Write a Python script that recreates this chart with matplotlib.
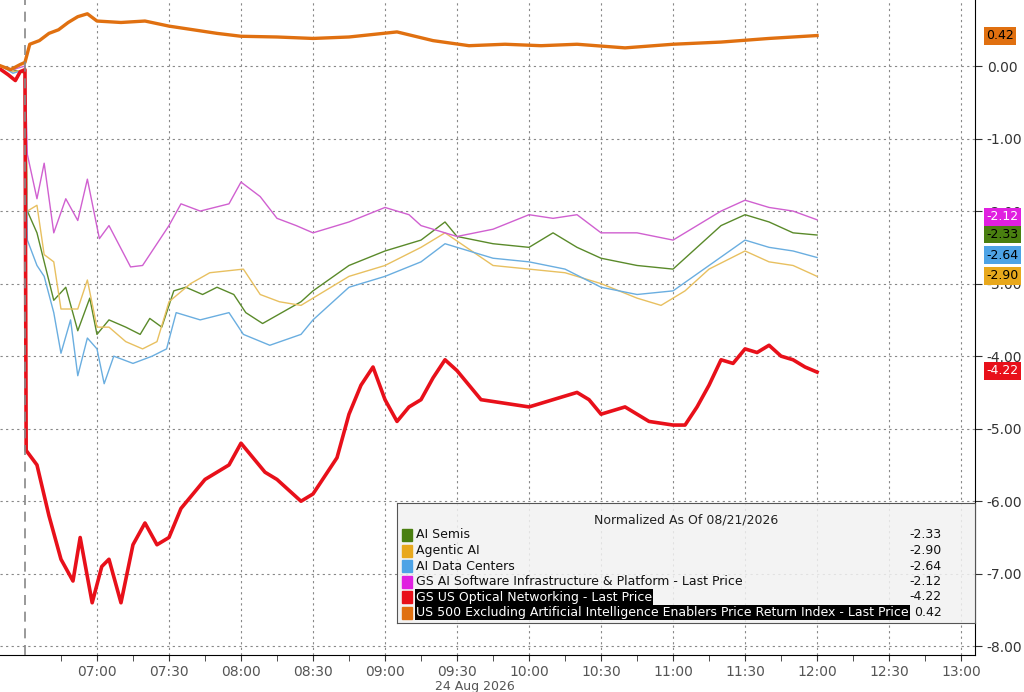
import matplotlib.pyplot as plt
from matplotlib.patches import Rectangle

# times in minutes from midnight, values in %
semis_t = [380, 385, 390, 391, 395, 402, 407, 412, 417, 420, 425, 432, 438, 442, 447, 452, 457, 464, 470, 477, 482, 489, 497, 505,
           510, 525, 540, 555, 565, 570, 585, 600, 610, 620, 630, 645, 660, 670, 680, 690, 700, 710, 720]
semis_v = [0.0, -0.05, -0.1, -2.0, -2.3, -3.23, -3.05, -3.65, -3.2, -3.7, -3.5, -3.6, -3.7, -3.48, -3.6, -3.1, -3.05, -3.15, -3.05, -3.15, -3.4, -3.55, -3.4, -3.25,
           -3.1, -2.75, -2.55, -2.4, -2.15, -2.35, -2.45, -2.5, -2.3, -2.5, -2.65, -2.75, -2.8, -2.5, -2.2, -2.05, -2.15, -2.3, -2.33]
agentic_t = [380, 385, 390, 391, 395, 398, 402, 405, 412, 416, 420, 425, 432, 439, 445, 450, 459, 467, 481, 488, 496, 505,
             510, 525, 540, 555, 565, 585, 600, 615, 630, 645, 655, 665, 675, 690, 700, 710, 720]
agentic_v = [0.0, -0.08, -0.05, -2.0, -1.92, -2.6, -2.7, -3.35, -3.35, -2.95, -3.6, -3.6, -3.8, -3.9, -3.8, -3.25, -3.0, -2.85, -2.8, -3.15, -3.25, -3.3,
             -3.2, -2.9, -2.75, -2.5, -2.3, -2.75, -2.8, -2.85, -3.0, -3.2, -3.3, -3.1, -2.8, -2.55, -2.7, -2.75, -2.9]
dc_t = [380, 385, 390, 391, 395, 398, 402, 405, 409, 412, 416, 420, 423, 427, 435, 443, 449, 453, 463, 475, 481, 492, 505,
        510, 525, 540, 555, 565, 585, 600, 615, 630, 645, 660, 675, 690, 700, 710, 720]
dc_v = [0.0, -0.1, -0.05, -2.4, -2.75, -2.9, -3.4, -3.96, -3.5, -4.27, -3.75, -3.9, -4.38, -4.0, -4.1, -4.0, -3.9, -3.4, -3.5, -3.4, -3.7, -3.85, -3.7,
        -3.5, -3.05, -2.9, -2.7, -2.45, -2.65, -2.7, -2.8, -3.05, -3.15, -3.1, -2.75, -2.4, -2.5, -2.55, -2.64]
sw_t = [380, 385, 390, 391, 395, 398, 402, 407, 412, 416, 421, 425, 434, 439, 443, 450, 455, 463, 475, 480, 488, 495, 503,
        510, 525, 540, 550, 555, 570, 585, 600, 610, 620, 630, 645, 660, 670, 680, 690, 700, 710, 720]
sw_v = [0.0, -0.05, 0.0, -1.22, -1.83, -1.34, -2.3, -1.83, -2.13, -1.56, -2.38, -2.2, -2.77, -2.75, -2.55, -2.2, -1.9, -2.0, -1.9, -1.6, -1.8, -2.1, -2.2,
        -2.3, -2.15, -1.95, -2.05, -2.2, -2.35, -2.25, -2.05, -2.1, -2.05, -2.3, -2.3, -2.4, -2.2, -2.0, -1.85, -1.95, -2.0, -2.12]
opt_t = [380, 383, 386, 388, 390, 390.5, 395, 400, 405, 410, 413, 418, 422, 425, 430, 435, 440, 445, 450, 455, 465, 475, 480, 490, 495, 505,
         510, 520, 525, 530, 535, 540, 545, 550, 555, 560, 565, 570, 580, 590, 600, 610, 620, 625, 630, 640, 650, 660, 665, 670, 675, 680,
         685, 690, 695, 700, 705, 710, 715, 720]
opt_v = [-0.05, -0.12, -0.2, -0.08, -0.05, -5.3, -5.5, -6.2, -6.8, -7.1, -6.5, -7.4, -6.9, -6.8, -7.4, -6.6, -6.3, -6.6, -6.5, -6.1, -5.7, -5.5, -5.2, -5.6, -5.7, -6.0,
         -5.9, -5.4, -4.8, -4.4, -4.15, -4.6, -4.9, -4.7, -4.6, -4.3, -4.05, -4.2, -4.6, -4.65, -4.7, -4.6, -4.5, -4.6, -4.8, -4.7, -4.9, -4.95, -4.95, -4.7,
         -4.4, -4.05, -4.1, -3.9, -3.95, -3.85, -4.0, -4.05, -4.15, -4.22]
spx_t = [380, 384, 388, 390, 392, 396, 400, 404, 408, 412, 416, 420, 430, 440, 450, 460, 470, 480, 495, 510, 525, 545, 560, 575, 590, 605, 620, 640, 660, 680, 700, 720]
spx_v = [0.0, -0.05, 0.02, 0.05, 0.3, 0.35, 0.45, 0.5, 0.6, 0.68, 0.72, 0.62, 0.6, 0.62, 0.55, 0.5, 0.45, 0.41, 0.4, 0.38, 0.4, 0.47, 0.35, 0.28, 0.3, 0.28, 0.3, 0.25, 0.3, 0.33, 0.38, 0.42]

names = ["AI Semis", "Agentic AI", "AI Data Centers", "GS AI Software Infrastructure & Platform - Last Price",
         "GS US Optical Networking - Last Price",
         "US 500 Excluding Artificial Intelligence Enablers Price Return Index - Last Price"]
last = [-2.33, -2.90, -2.64, -2.12, -4.22, 0.42]
colors = ["#4a7f10", "#e8a81c", "#4da3e6", "#e020e0", "#e8101a", "#e07010"]
line_colors = ["#5a8a2a", "#e8c060", "#6aaee0", "#d060d0", "#e8101a", "#e07010"]
series = [(semis_t, semis_v), (agentic_t, agentic_v), (dc_t, dc_v), (sw_t, sw_v), (opt_t, opt_v), (spx_t, spx_v)]
widths = [1.0, 1.0, 1.0, 1.0, 2.6, 2.4]

fig = plt.figure(figsize=(10.24, 6.92), dpi=100)
ax = fig.add_axes([0, 1 - 655 / 692, 975 / 1024, 655 / 692])
for (t, v), c, w in zip(series, line_colors, widths):
    ax.plot(t, v, color=c, lw=w)

ax.set_xlim(379.6, 785.8)
ax.set_ylim(-8.12, 0.91)
ax.axvline(390, color="#888888", ls=(0, (6, 4)), lw=1.2, zorder=5)
major = list(range(420, 781, 30))
ax.set_xticks(major)
ax.set_xticklabels([f"{m // 60:02d}:{m % 60:02d}" for m in major], color="#555555", fontsize=10)
ax.set_xticks(list(range(405, 781, 15)), minor=True)
ax.set_yticks(range(0, -9, -1))
ax.set_yticklabels([f"{v:.2f}" for v in range(0, -9, -1)], fontsize=10, color="#333333")
ax.yaxis.tick_right()
ax.tick_params(axis="y", length=5, color="#333333")
ax.tick_params(axis="x", which="both", length=4, color="#333333")
ax.grid(True, ls=(0, (2, 3)), color="#888888", lw=0.8)
for s in ["top", "left"]:
    ax.spines[s].set_visible(False)
fig.text(475 / 1024, 1 - 680 / 692, "24 Aug 2026", ha="center", va="top", fontsize=9, color="#555555")

label_y = [-2.32, -2.89, -2.61, -2.08, -4.2, 0.42]
for y, val, c in zip(label_y, last, colors):
    ax.annotate(f"{val:.2f}", xy=(1.0, y), xycoords=("axes fraction", "data"), xytext=(8, 0),
                textcoords="offset points", va="center", ha="left", fontsize=9,
                color="white" if c in ("#e8101a", "#e020e0") else "black",
                bbox=dict(boxstyle="square,pad=0.2", fc=c, ec="none"), annotation_clip=False)

lg = fig.add_axes([397 / 1024, 1 - 623 / 692, 578 / 1024, 120 / 692])
lg.set_xlim(0, 578)
lg.set_ylim(120, 0)
lg.patch.set_facecolor("#f2f2f2")
lg.patch.set_alpha(0.85)
lg.set_xticks([])
lg.set_yticks([])
for s in lg.spines.values():
    s.set_color("#555555")
lg.text(289, 17, "Normalized As Of 08/21/2026", ha="center", va="center", fontsize=9, color="#222222")
for i, (n, val, c) in enumerate(zip(names, last, colors)):
    y = 32 + i * 15.5
    lg.add_patch(Rectangle((5, y - 6), 10, 12, color=c))
    dark = i >= 4
    lg.text(19, y, n, va="center", fontsize=9, color="white" if dark else "#111111",
            bbox=dict(fc="black", ec="none", pad=0.8) if dark else None)
    lg.text(545, y, f"{val:.2f}", va="center", ha="right", fontsize=9, color="#111111")

fig.savefig("out.png", dpi=100)
